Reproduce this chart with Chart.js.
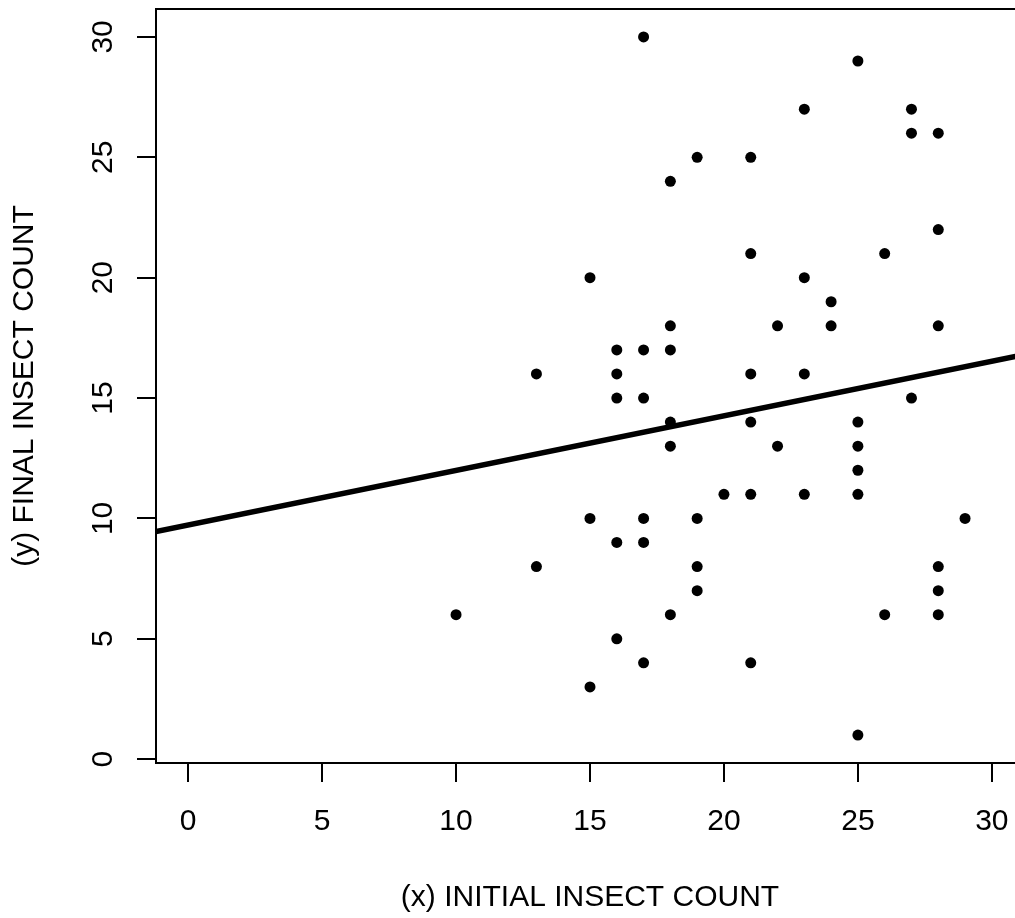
<!DOCTYPE html>
<html>
<head>
<meta charset="utf-8">
<script src="https://cdn.jsdelivr.net/npm/chart.js@4.4.0/dist/chart.umd.min.js"></script>
<style>
  html, body { margin: 0; padding: 0; background: #fff; overflow: hidden; }
  canvas { display: block; }
</style>
</head>
<body>
<!-- the plot box runs a little past the right edge of the window, as in the original -->
<canvas id="insects" width="1040" height="918"></canvas>
<script>
// one entry per plot: initial count (x) and final count (y)
const initialCount = [10, 13, 13, 15, 15, 15, 16, 16, 16, 16, 16,
    17, 17, 17, 17, 17, 17, 18, 18, 18, 18, 18, 18, 19, 19, 19, 19, 20,
    21, 21, 21, 21, 21, 21, 22, 22, 23, 23, 23, 23, 24, 24,
    25, 25, 25, 25, 25, 25, 26, 26, 27, 27, 27, 28, 28, 28, 28, 28, 28, 29];
const finalCount = [6, 16, 8, 20, 10, 3, 17, 16, 15, 9, 5,
    30, 17, 15, 10, 9, 4, 24, 18, 17, 14, 13, 6, 25, 10, 8, 7, 11,
    25, 21, 16, 14, 11, 4, 18, 13, 27, 20, 16, 11, 19, 18,
    29, 14, 13, 12, 11, 1, 21, 6, 27, 26, 15, 26, 22, 18, 8, 7, 6, 10];

// fitted line, read at the two edges of the plot box
const fitX = [-1.2, 31.2];
const fitY = [9.45, 16.8];

const xTicks = [0, 5, 10, 15, 20, 25, 30];
const yTicks = [0, 5, 10, 15, 20, 25, 30];
const xTitle = "(x) INITIAL INSECT COUNT";
const yTitle = "(y) FINAL INSECT COUNT";

const FONT = '"Liberation Sans", Arial, sans-serif';

// R style extras: top edge of the box, upright y labels and the axis titles
const rStyle = {
    id: 'rStyle',
    afterDraw(chart) {
        const ctx = chart.ctx;
        const a = chart.chartArea;
        const y = chart.scales.y;
        ctx.save();
        ctx.strokeStyle = '#000';
        ctx.lineWidth = 2;
        ctx.beginPath();
        ctx.moveTo(a.left, a.top);
        ctx.lineTo(a.right, a.top);
        ctx.lineTo(a.right, a.bottom);
        ctx.stroke();

        ctx.fillStyle = '#000';
        ctx.font = '30px ' + FONT;
        ctx.textAlign = 'center';
        ctx.textBaseline = 'alphabetic';
        yTicks.forEach(function(v) {
            ctx.save();
            ctx.translate(112, y.getPixelForValue(v));
            ctx.rotate(-Math.PI / 2);
            ctx.fillText(String(v), 0, 0);
            ctx.restore();
        });

        ctx.fillText(xTitle, (a.left + a.right) / 2, 906);
        ctx.translate(33, (a.top + a.bottom) / 2);
        ctx.rotate(-Math.PI / 2);
        ctx.fillText(yTitle, 0, 0);
        ctx.restore();
    }
};

const axisGrid = {
    drawOnChartArea: false,
    drawTicks: true,
    tickLength: 19,
    color: '#000',
    lineWidth: 2
};

let ctx = document.getElementById('insects');
let insectChart = new Chart(ctx, {
    type: 'scatter',
    data: {
        datasets: [{
            type: 'line',
            label: 'fit',
            data: fitX.map(function(x, i) { return {x: x, y: fitY[i]}; }),
            borderColor: '#000',
            borderWidth: 5.5,
            pointRadius: 0,
            fill: false
        }, {
            label: 'counts',
            data: initialCount.map(function(x, i) { return {x: x, y: finalCount[i]}; }),
            backgroundColor: '#000',
            borderWidth: 0,
            pointRadius: 5.5,
            pointHoverRadius: 5.5
        }]
    },
    options: {
        responsive: false,
        animation: false,
        layout: { padding: { top: 9, right: 16, bottom: 0, left: 0 } },
        plugins: {
            legend: { display: false },
            tooltip: { enabled: false }
        },
        scales: {
            x: {
                type: 'linear',
                min: -1.2,
                max: 31.2,
                afterBuildTicks: function(s) { s.ticks = xTicks.map(function(v) { return {value: v}; }); },
                afterFit: function(s) {
                    s.height = 155;
                    s.paddingLeft = 0;
                    s.paddingRight = 0;
                },
                grid: axisGrid,
                border: { display: true, color: '#000', width: 2 },
                ticks: {
                    color: '#000',
                    font: { size: 30, family: FONT },
                    padding: 22,
                    maxRotation: 0,
                    autoSkip: false
                }
            },
            y: {
                type: 'linear',
                min: -0.16,
                max: 31.16,
                afterBuildTicks: function(s) { s.ticks = yTicks.map(function(v) { return {value: v}; }); },
                afterFit: function(s) {
                    s.width = 156;
                    s.paddingTop = 0;
                    s.paddingBottom = 0;
                },
                grid: axisGrid,
                border: { display: true, color: '#000', width: 2 },
                ticks: { display: false }
            }
        }
    },
    plugins: [rStyle]
});
</script>
</body>
</html>
